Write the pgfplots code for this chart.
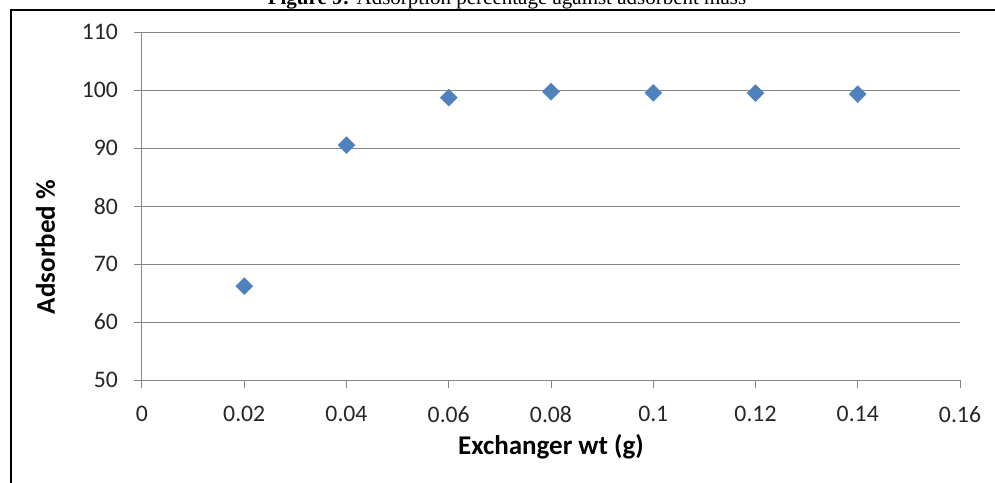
\documentclass[border=0pt]{standalone}
\usepackage{pgfplots}
\pgfplotsset{compat=1.18}
\usepackage{fontspec}
\setmainfont{Carlito}
\newfontfamily\titlefont{Liberation Serif}
\definecolor{mk}{HTML}{4F81BD}
\definecolor{gr}{HTML}{868686}
\begin{document}
\begin{tikzpicture}
\useasboundingbox (-142bp,-103bp) rectangle (853bp,380bp);
\draw[line width=2.5bp] (-131bp,-130bp) -- (-131bp,370bp) -- (880bp,370bp);
\node[anchor=base, inner sep=0pt, font=\titlefont\fontsize{21bp}{24bp}\selectfont] at (365bp,375bp) {\textbf{Figure 9:} Adsorption percentage against adsorbent mass};
\begin{axis}[
  scale only axis, width=818bp, height=348bp,
  xmin=0, xmax=0.16, ymin=50, ymax=110,
  xtick={0,0.02,0.04,0.06,0.08,0.1,0.12,0.14,0.16},
  xticklabels={0,0.02,0.04,0.06,0.08,0.1,0.12,0.14,0.16},
  ytick={50,60,70,80,90,100,110},
  axis x line*=bottom, axis y line*=left,
  axis line style={gr, line width=1bp},
  ymajorgrids, grid style={gr, line width=1bp},
  tick style={gr, line width=1bp},
  tick align=outside, major tick length=8bp,
  /pgf/number format/assume math mode=true,
  ticklabel style={font=\fontsize{23.7bp}{26bp}\selectfont, text=black!85},
  xticklabel style={anchor=north, inner sep=0pt, yshift=-18bp},
  yticklabel style={anchor=east, inner sep=0pt, xshift=-16bp},
  xlabel={Exchanger wt (g)}, ylabel={Adsorbed \%},
  label style={font=\bfseries\fontsize{27bp}{30bp}\selectfont, inner sep=0pt},
  xlabel style={at={(axis description cs:0.5,-0.2155)}, anchor=base},
  ylabel style={at={(axis description cs:-0.1064,0.382)}, anchor=base, rotate=0},
  clip=false,
]
\addplot[only marks, mark=square*, mark size=6bp, mark options={rotate=45, fill=mk, draw=mk}]
coordinates {
(0.02,66.2) (0.04,90.5) (0.06,98.7) (0.08,99.7) (0.10,99.5) (0.12,99.45) (0.14,99.3)
};
\end{axis}
\end{tikzpicture}
\end{document}
